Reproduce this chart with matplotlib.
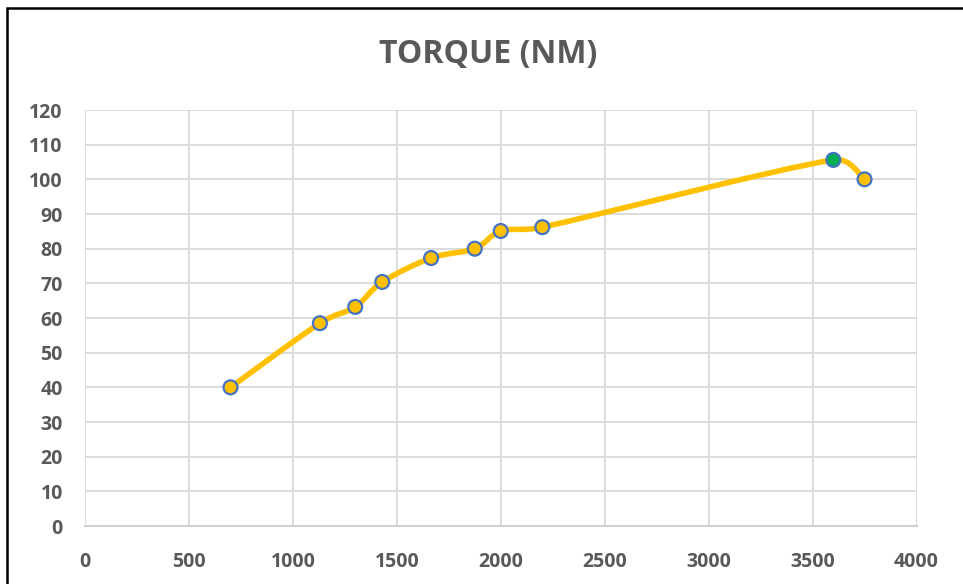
import numpy as np
import matplotlib.pyplot as plt
from matplotlib.path import Path
from matplotlib.patches import PathPatch, Rectangle

# Datos
rpm = [700, 1130, 1300, 1430, 1665, 1875, 2000, 2200, 3600, 3750]
torque = [40, 58.5, 63.2, 70.4, 77.3, 80, 85.1, 86.2, 105.6, 100]
punto_max = 8  # índice del punto verde

x_ticks = [0, 500, 1000, 1500, 2000, 2500, 3000, 3500, 4000]
y_ticks = list(range(0, 121, 10))

amarillo = "#FFC000"
azul = "#4472C4"
verde = "#00B050"
gris_txt = "#595959"
gris_grid = "#D9D9D9"

plt.rcParams["font.family"] = ["Open Sans", "DejaVu Sans"]

fig = plt.figure(figsize=(9.63, 5.84), dpi=100)
ax = fig.add_axes([85 / 963, 1 - 526 / 584, (916.5 - 85) / 963, (526 - 110) / 584])
ax.set_xlim(0, 4000)
ax.set_ylim(0, 120)


def limitar(v, maximo):
    largo = np.linalg.norm(v)
    return v if largo <= maximo else v * maximo / largo


# Línea suavizada tipo Excel: Bezier calculada en coordenadas de pantalla
pts = ax.transData.transform(np.column_stack([rpm, torque]).astype(float))
n = len(pts)
verts = [pts[0]]
codes = [Path.MOVETO]
for i in range(n - 1):
    p0 = pts[max(i - 1, 0)]
    p1 = pts[i]
    p2 = pts[i + 1]
    p3 = pts[min(i + 2, n - 1)]
    seg = np.linalg.norm(p2 - p1)
    c1 = p1 + limitar((p2 - p0) / 6, seg * 0.5)
    c2 = p2 - limitar((p3 - p1) / 6, seg * 0.5)
    verts += [c1, c2, p2]
    codes += [Path.CURVE4] * 3
verts = ax.transData.inverted().transform(np.array(verts))
curva = PathPatch(Path(verts, codes), facecolor="none", edgecolor=amarillo,
                  lw=4, capstyle="round", joinstyle="round", zorder=3)
ax.add_patch(curva)

colores = [verde if i == punto_max else amarillo for i in range(n)]
ax.scatter(rpm, torque, s=100, c=colores, edgecolors=azul, linewidths=1.6, zorder=4)

ax.set_xticks(x_ticks)
ax.set_yticks(y_ticks)
ax.grid(True, color=gris_grid, lw=1.3)
ax.set_axisbelow(True)
for lado in ["top", "right", "left"]:
    ax.spines[lado].set_visible(False)
ax.spines["bottom"].set_color("#D0D0D0")
ax.spines["bottom"].set_linewidth(1.5)
ax.tick_params(length=0, labelsize=14, labelcolor=gris_txt)
ax.tick_params(axis="x", pad=19)
ax.tick_params(axis="y", pad=16)
for lbl in ax.get_xticklabels() + ax.get_yticklabels():
    lbl.set_fontweight("bold")

fig.text(488 / 963, 1 - 55 / 584, "TORQUE (NM)", ha="center", va="center",
         fontsize=23, fontweight="bold", color=gris_txt)

# Marco negro
fig.patches.append(Rectangle((7 / 963, -0.05), 1.1, 1 - 8 / 584 + 0.05,
                             transform=fig.transFigure, fill=False,
                             edgecolor="black", lw=1.8))

fig.savefig("out.png", dpi=100)
